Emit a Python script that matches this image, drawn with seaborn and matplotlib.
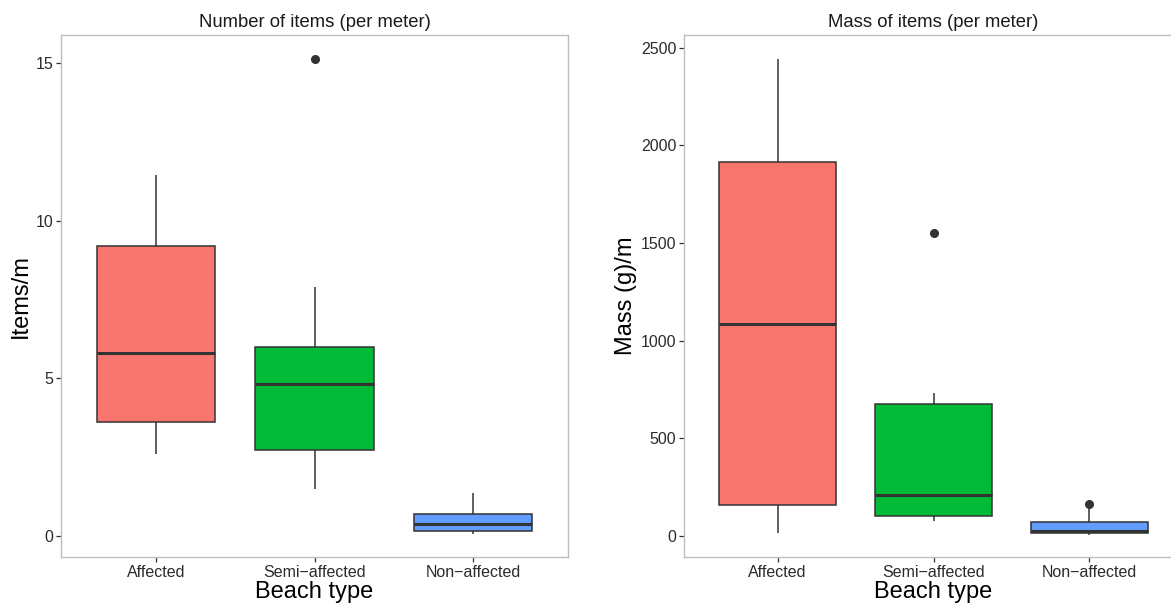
import pandas as pd
import matplotlib.pyplot as plt
import seaborn as sns

# --- values ---
beach_types = ["Affected", "Semi-affected", "Non-affected"]
tick_labels = ["Affected", "Semi\u2212affected", "Non\u2212affected"]
box_colors = ["#F8766D", "#00BA38", "#619CFF"]

# items per meter (5 or 9 values, so the quartiles land on the points)
items_affected = [2.6, 3.62, 5.81, 9.2, 11.46]
items_semi = [1.49, 2.2, 2.73, 3.9, 4.83, 5.5, 6.0, 7.9, 15.15]
items_non = [0.06, 0.16, 0.38, 0.70, 1.37]

# mass (g) per meter
mass_affected = [15, 159, 1088, 1916, 2445]
mass_semi = [75, 90, 102, 150, 210, 400, 678, 730, 1552]
mass_non = [5, 10, 15, 18, 24, 40, 72, 148, 165]


def long_df(groups):
    rows = []
    for name, vals in zip(beach_types, groups):
        rows += [{"beach": name, "value": v} for v in vals]
    return pd.DataFrame(rows)


items_df = long_df([items_affected, items_semi, items_non])
mass_df = long_df([mass_affected, mass_semi, mass_non])

sns.set_theme(style="white")
plt.rcParams["font.family"] = ["Liberation Sans", "DejaVu Sans"]

fig = plt.figure(figsize=(11.71, 6.10), dpi=100)
ax1 = fig.add_axes([61 / 1171, 1 - 557 / 610, 507 / 1171, 522 / 610])
ax2 = fig.add_axes([684 / 1171, 1 - 557 / 610, 499 / 1171, 522 / 610])

panels = [
    (ax1, items_df, "Number of items (per meter)", "Items/m", (-0.67, 15.9), [0, 5, 10, 15]),
    (ax2, mass_df, "Mass of items (per meter)", "Mass (g)/m", (-108, 2566), [0, 500, 1000, 1500, 2000, 2500]),
]

for ax, df, title, ylabel, ylim, yticks in panels:
    sns.boxplot(
        data=df,
        x="beach",
        y="value",
        hue="beach",
        order=beach_types,
        hue_order=beach_types,
        palette=box_colors,
        width=0.75,
        linecolor="#333333",
        linewidth=1.1,
        saturation=1,
        showcaps=False,
        medianprops={"linewidth": 2.2, "color": "#333333"},
        flierprops={"marker": "o", "markersize": 5.5,
                    "markerfacecolor": "#333333", "markeredgecolor": "#333333"},
        legend=False,
        ax=ax,
    )
    ax.set_xlim(-0.6, 2.6)
    ax.set_ylim(*ylim)
    ax.set_yticks(yticks)
    ax.set_xticks(range(3))
    ax.set_xticklabels(tick_labels)
    ax.set_title(title, fontsize=13.3, color="#1a1a1a", pad=6)
    ax.set_xlabel("Beach type", fontsize=17, color="black", labelpad=1)
    ax.set_ylabel(ylabel, fontsize=17, color="black", labelpad=3)
    ax.tick_params(axis="both", which="major", length=3.5, width=0.9,
                   color="#333333", labelsize=11.5, labelcolor="#2b2b2b",
                   pad=2, left=True, bottom=True)
    for spine in ax.spines.values():
        spine.set_color("#BEBEBE")
        spine.set_linewidth(1.0)
    ax.grid(False)

fig.savefig("out.png", dpi=100)
